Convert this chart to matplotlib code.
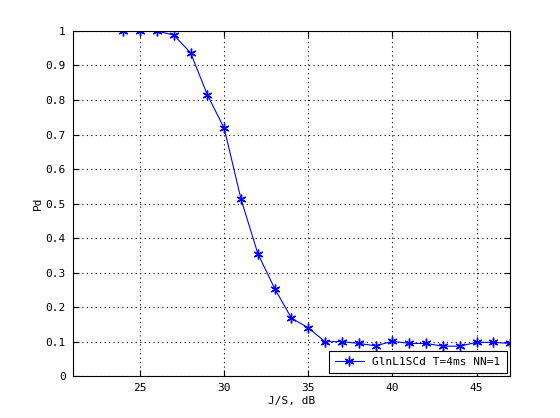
import matplotlib
matplotlib.use("Agg")
import matplotlib.pyplot as plt

js_db = [24, 25, 26, 27, 28, 29, 30, 31, 32, 33, 34, 35, 36, 37, 38, 39, 40, 41, 42, 43, 44, 45, 46, 47]
pd_vals = [1.0, 1.0, 1.0, 0.988, 0.937, 0.815, 0.718, 0.513, 0.355, 0.254, 0.168, 0.140, 0.100, 0.100, 0.095, 0.088,
           0.101, 0.095, 0.095, 0.087, 0.087, 0.098, 0.098, 0.095]
xticks = [25, 30, 35, 40, 45]
yticks = [0, 0.1, 0.2, 0.3, 0.4, 0.5, 0.6, 0.7, 0.8, 0.9, 1]
label = "GlnL1SCd T=4ms NN=1"

plt.rcParams['font.family'] = ['DejaVu Sans Mono']
plt.rcParams['font.size'] = 8

fig = plt.figure(figsize=(5.6, 4.18), dpi=100)
ax = fig.add_axes([0.130, 0.100, 0.781, 0.826])
ax.plot(js_db, pd_vals, color='#0000ff', marker=(6, 2, 0), markersize=7, markeredgewidth=1.0,
        linewidth=0.8, label=label)
ax.set_xlim(21, 47)
ax.set_ylim(0, 1)
ax.set_xticks(xticks)
ax.set_yticks(yticks)
ax.set_yticklabels(['0', '0.1', '0.2', '0.3', '0.4', '0.5', '0.6', '0.7', '0.8', '0.9', '1'])
ax.grid(True, color='black', linestyle=(0, (1, 3)), linewidth=0.8)
ax.tick_params(direction='in', length=4, top=True, right=True, colors='black', pad=5)
ax.set_xlabel('J/S, dB', labelpad=2)
ax.set_ylabel('Pd', labelpad=2)
for s in ax.spines.values():
    s.set_linewidth(0.8)
leg = ax.legend(loc='lower right', fancybox=False, edgecolor='black', framealpha=1,
                borderaxespad=0.3, handlelength=2.6, borderpad=0.55)
leg.get_frame().set_linewidth(0.8)
fig.savefig('out.png', dpi=100)
